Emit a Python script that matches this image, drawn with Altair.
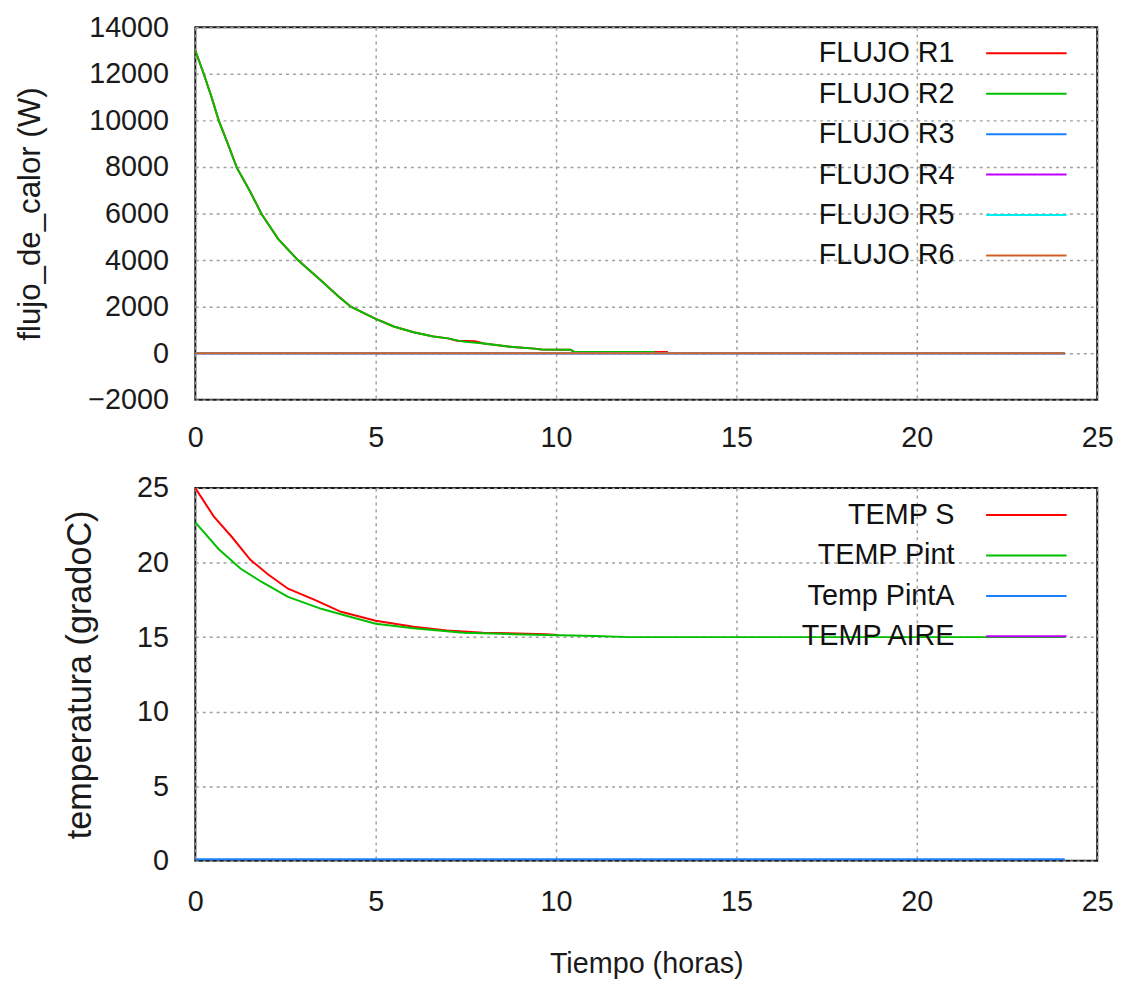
import altair as alt
import pandas as pd

# ---------------- data ----------------
flux_names = ["FLUJO R1", "FLUJO R2", "FLUJO R3", "FLUJO R4", "FLUJO R5", "FLUJO R6"]
flux_colors = ["#ff0000", "#00c000", "#1a80ff", "#c000ff", "#00eeee", "#d0602a"]

r2_t = [0, 0.24, 0.45, 0.65, 0.9, 1.15, 1.5, 1.84, 2.3, 2.85, 3.5, 4.0, 4.31, 5.0, 5.5, 6.05, 6.6, 7.0,
        7.43, 8.0, 8.8, 9.4, 9.6, 10.4, 10.5, 12.74]
r2_v = [13000, 11970, 11000, 9990, 9000, 7970, 7000, 5970, 4900, 3990, 3100, 2400, 2000, 1480, 1150, 900,
        720, 640, 500, 420, 270, 200, 160, 155, 60, 60]

r1_t = [0, 0.24, 0.45, 0.65, 0.9, 1.15, 1.5, 1.84, 2.3, 2.85, 3.5, 4.0, 4.31, 5.0, 5.5, 6.05, 6.6, 7.0,
        7.25, 7.75, 8.0, 8.8, 9.4, 9.6, 10.4, 10.5, 13.1]
r1_v = [13000, 11970, 11000, 9990, 9000, 7970, 7000, 5970, 4900, 3990, 3100, 2400, 2000, 1480, 1150, 900,
        720, 640, 540, 520, 420, 270, 200, 160, 155, 60, 60]

zero_t = [0, 24.1]
zero_v = [0, 0]

temp_names = ["TEMP S", "TEMP Pint", "Temp PintA", "TEMP AIRE"]
temp_colors = ["#ff0000", "#00c000", "#1a80ff", "#c000ff"]

ts_t = [0, 0.51, 1.02, 1.52, 2.02, 2.57, 3.31, 4.04, 5.0, 6.05, 6.97, 7.98, 9.72, 10.04]
ts_v = [25.0, 23.1, 21.7, 20.2, 19.2, 18.25, 17.5, 16.7, 16.1, 15.7, 15.45, 15.3, 15.2, 15.15]

tp_t = [0, 0.65, 1.25, 1.84, 2.57, 3.49, 4.31, 5.0, 6.05, 7.43, 8.8, 11.09, 12.0, 24.1]
tp_v = [22.7, 20.9, 19.6, 18.7, 17.7, 16.9, 16.35, 15.9, 15.6, 15.3, 15.2, 15.07, 15.0, 15.0]

tpa_t = [0, 24.1]
tpa_v = [0.1, 0.1]

x_ticks = [0, 5, 10, 15, 20, 25]
y_top_ticks = [-2000, 0, 2000, 4000, 6000, 8000, 10000, 12000, 14000]
y_bot_ticks = [0, 5, 10, 15, 20, 25]

# ---------------- tables ----------------
def table(series):
    rows = []
    for name, ts, vs in series:
        for t, v in zip(ts, vs):
            rows.append({"serie": name, "t": t, "v": v})
    return pd.DataFrame(rows)

flux_df = table([
    ("FLUJO R1", r1_t, r1_v),
    ("FLUJO R2", r2_t, r2_v),
    ("FLUJO R3", zero_t, zero_v),
    ("FLUJO R4", zero_t, zero_v),
    ("FLUJO R5", zero_t, zero_v),
    ("FLUJO R6", zero_t, zero_v),
])
temp_df = table([
    ("TEMP S", ts_t, ts_v),
    ("TEMP Pint", tp_t, tp_v),
    ("Temp PintA", tpa_t, tpa_v),
])

FONT = "Liberation Sans"
W, H = 910, 376


def legend(ly):
    return alt.Legend(
        orient="none", legendX=817, legendY=ly, title=None,
        symbolType="M-2,0L2,0", symbolSize=1648, symbolStrokeWidth=2, symbolOffset=0,
        labelAlign="right", labelOffset={"expr": "-94"}, labelFontSize=29, labelFont=FONT,
        labelColor="#111111", rowPadding=3.8, padding=0, labelLimit=500,
    )


def panel(df, names, colors, y_dom, y_vals, y_title, y_title_size, x_title, ly, title_pad, x_lab_pad):
    color = alt.Color("serie:N", scale=alt.Scale(domain=names, range=colors), legend=legend(ly))
    if x_title:
        x_axis = alt.Axis(values=x_ticks, title=x_title, titlePadding=34, labelPadding=x_lab_pad)
    else:
        x_axis = alt.Axis(values=x_ticks, title=None, labelPadding=x_lab_pad)
    x = alt.X("t:Q", scale=alt.Scale(domain=[0, 25], nice=False), axis=x_axis)
    y = alt.Y("v:Q", scale=alt.Scale(domain=y_dom, nice=False),
              axis=alt.Axis(values=y_vals, title=y_title, format="d", titleFontSize=y_title_size,
                            titlePadding=title_pad))
    layers = []
    for n in names:
        if n in set(df["serie"]):
            layers.append(
                alt.Chart(df).transform_filter(alt.datum.serie == n)
                .mark_line(strokeWidth=2, clip=True)
                .encode(x=x, y=y, color=color)
            )
    return alt.layer(*layers).properties(width=W, height=H)


top = panel(flux_df, flux_names, flux_colors, [-2000, 14000], y_top_ticks,
            "flujo_de_calor (W)", 31.5, None, 4.8, 42, 24)
bottom = panel(temp_df, temp_names, temp_colors, [0, 25], y_bot_ticks,
               "temperatura (gradoC)", 34.5, "Tiempo (horas)", 5.7, 40, 27)

chart = (
    alt.vconcat(top, bottom, spacing=20)
    .resolve_scale(color="independent")
    .properties(padding={"left": 5, "top": 0, "right": 5, "bottom": 0})
    .configure_view(stroke="#1a1a1a", strokeWidth=2)
    .configure_axis(
        labelFont=FONT, labelFontSize=29, labelColor="#1a1a1a", labelPadding=27,
        tickSize=0, domain=False, labelFlush=False, labelOverlap=False,
        gridColor="#a0a0a0", gridDash=[3, 4], gridWidth=1.5,
        titleFont=FONT, titleFontWeight="normal", titleColor="#1a1a1a", titleFontSize=29,
    )
)

chart.save("out.html", embed_options={"renderer": "svg", "actions": False})
